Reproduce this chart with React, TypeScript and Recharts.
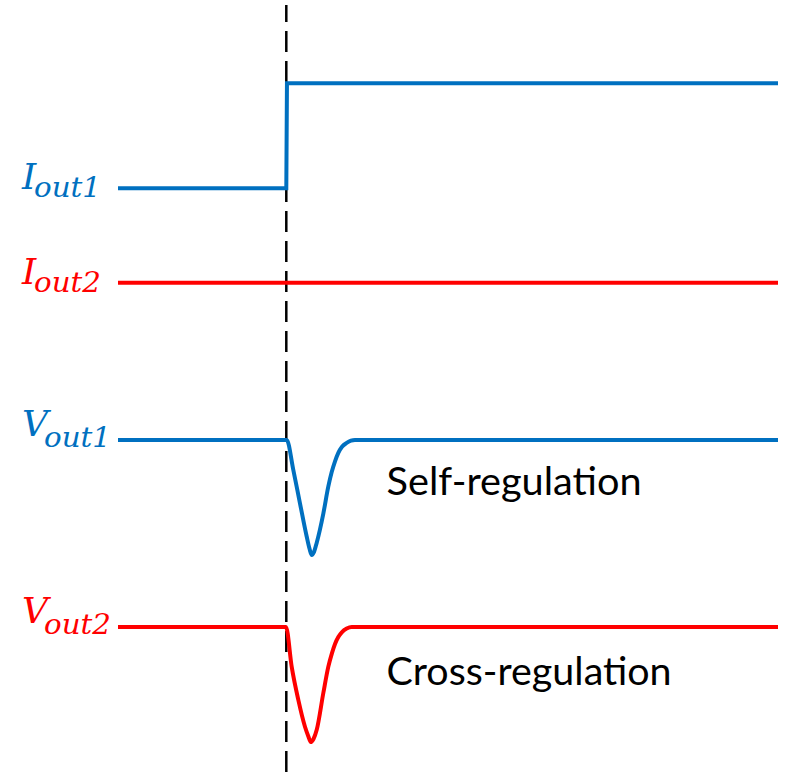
import React from 'react';
import { LineChart, Line, XAxis, YAxis, ReferenceLine, ReferenceDot } from 'recharts';

const BLUE = '#0070C0';
const RED = '#FF0000';

// time of the load step (same units as the x axis, 0..100)
const stepTime = 25.5;

const iout1 = [
  { t: 0, v: 76.1 },
  { t: 25.5, v: 76.1 },
  { t: 25.6, v: 89.8 },
  { t: 100, v: 89.8 },
];

const iout2 = [
  { t: 0, v: 63.8 },
  { t: 100, v: 63.8 },
];

const vout1 = [
  { t: 0, v: 43.3 },
  { t: 25.56, v: 43.3 },
  { t: 26.56, v: 39.4 },
  { t: 27.58, v: 35.0 },
  { t: 28.59, v: 30.7 },
  { t: 29.02, v: 29.1 },
  { t: 29.35, v: 28.3 },
  { t: 29.7, v: 28.7 },
  { t: 30.11, v: 29.9 },
  { t: 31.11, v: 33.7 },
  { t: 31.86, v: 37.2 },
  { t: 32.38, v: 39.1 },
  { t: 32.88, v: 40.5 },
  { t: 33.38, v: 41.6 },
  { t: 33.94, v: 42.4 },
  { t: 34.65, v: 42.9 },
  { t: 35.3, v: 43.2 },
  { t: 35.9, v: 43.3 },
  { t: 100, v: 43.3 },
];

const vout2 = [
  { t: 0, v: 18.9 },
  { t: 25.45, v: 18.9 },
  { t: 26.32, v: 13.7 },
  { t: 27.32, v: 9.4 },
  { t: 28.33, v: 5.9 },
  { t: 28.86, v: 4.6 },
  { t: 29.2, v: 3.9 },
  { t: 29.62, v: 4.3 },
  { t: 30.11, v: 5.5 },
  { t: 31.11, v: 10.3 },
  { t: 31.86, v: 13.7 },
  { t: 32.42, v: 15.5 },
  { t: 32.88, v: 16.7 },
  { t: 33.38, v: 17.6 },
  { t: 33.94, v: 18.25 },
  { t: 34.65, v: 18.7 },
  { t: 35.41, v: 18.9 },
  { t: 100, v: 18.9 },
];

const signalLabels = [
  { value: 76.1, main: 'I', sub: 'out1', color: BLUE },
  { value: 63.8, main: 'I', sub: 'out2', color: RED },
  { value: 43.3, main: 'V', sub: 'out1', color: BLUE },
  { value: 18.9, main: 'V', sub: 'out2', color: RED },
];

const annotations = [
  { t: 40.7, v: 36.1, text: 'Self-regulation' },
  { t: 40.7, v: 11.3, text: 'Cross-regulation' },
];

const labelTicks = signalLabels.map((l) => l.value);

const SignalTick = (props: any) => {
  const { y, payload } = props;
  const lab = signalLabels.find((l) => Math.abs(l.value - payload.value) < 0.01);
  if (!lab) return null;
  const isI = lab.main === 'I';
  const mainDy = isI ? 1 : -4;
  const subDy = isI ? 9 : 7;
  const subX = isI ? 34 : 44;
  return (
    <g>
      <text
        x={22}
        y={y + mainDy}
        fill={lab.color}
        fontFamily="'DejaVu Serif', serif"
        fontStyle="italic"
        fontSize={36}
      >
        {lab.main}
      </text>
      <text
        x={subX}
        y={y + subDy}
        fill={lab.color}
        fontFamily="'DejaVu Serif', serif"
        fontStyle="italic"
        fontSize={27}
        textLength={67}
        lengthAdjust="spacingAndGlyphs"
      >
        {lab.sub}
      </text>
    </g>
  );
};

const makeAnnotationLabel = (text: string, width: number) => (props: any) => {
  const { viewBox } = props;
  return (
    <text
      x={viewBox.x}
      y={viewBox.y}
      fill="#000"
      fontFamily="Lato, 'Open Sans', sans-serif"
      fontSize={38}
      textLength={width}
      lengthAdjust="spacingAndGlyphs"
    >
      {text}
    </text>
  );
};

const annotationWidths = [255, 285];

export default function App() {
  return (
    <div style={{ position: 'absolute', left: 0, top: 0, width: 788, height: 772, background: '#fff' }}>
      <LineChart
        width={788}
        height={772}
        margin={{ top: 5, right: 10, bottom: 0, left: 0 }}
      >
        <XAxis type="number" dataKey="t" domain={[0, 100]} hide allowDataOverflow />
        <YAxis
          type="number"
          domain={[0, 100]}
          width={118}
          ticks={labelTicks}
          interval={0}
          axisLine={false}
          tickLine={false}
          tick={<SignalTick />}
          allowDataOverflow
        />
        <ReferenceLine
          x={stepTime}
          stroke="#000"
          strokeWidth={2.5}
          strokeDasharray="21 9"
        />
        <Line data={iout1} dataKey="v" type="linear" stroke={BLUE} strokeWidth={4} dot={false} isAnimationActive={false} />
        <Line data={iout2} dataKey="v" type="linear" stroke={RED} strokeWidth={4} dot={false} isAnimationActive={false} />
        <Line data={vout1} dataKey="v" type="monotone" stroke={BLUE} strokeWidth={4} dot={false} isAnimationActive={false} />
        <Line data={vout2} dataKey="v" type="monotone" stroke={RED} strokeWidth={4} dot={false} isAnimationActive={false} />
        {annotations.map((a, i) => (
          <ReferenceDot
            key={a.text}
            x={a.t}
            y={a.v}
            r={0}
            fill="none"
            stroke="none"
            label={makeAnnotationLabel(a.text, annotationWidths[i])}
          />
        ))}
      </LineChart>
    </div>
  );
}
